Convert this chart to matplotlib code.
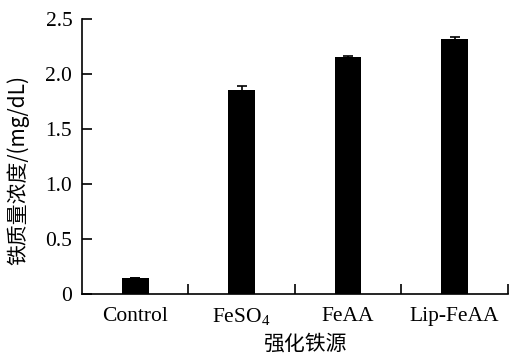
import numpy as np
import matplotlib
matplotlib.use('Agg')
from matplotlib import pyplot as plt

# datos
categorias = ['Control', 'FeSO$_4$', 'FeAA', 'Lip-FeAA']
valores = [0.145, 1.85, 2.155, 2.32]
errores = [0.0, 0.04, 0.012, 0.015]
yticks = [0, 0.5, 1.0, 1.5, 2.0, 2.5]
ytick_labels = ['0', '0.5', '1.0', '1.5', '2.0', '2.5']

plt.rcParams['font.family'] = ['Liberation Serif', 'Noto Sans CJK SC']
plt.rcParams['mathtext.fontset'] = 'custom'
plt.rcParams['mathtext.rm'] = 'Liberation Serif'

fig = plt.figure(figsize=(5.14, 3.55), dpi=100)
ax = fig.add_axes([0.1595, 0.1718, 0.8285, 0.7747])

x = np.arange(len(categorias))
ax.bar(x, valores, width=0.25, color='black', yerr=errores,
       error_kw=dict(ecolor='black', elinewidth=1.2, capsize=3.5, capthick=1.2))

ax.set_xlim(-0.5, len(categorias) - 0.5)
ax.set_ylim(0, 2.5)
ax.set_yticks(yticks)
ax.set_yticklabels(ytick_labels)
ax.set_xticks(x)
ax.set_xticklabels(categorias)
ax.tick_params(axis='x', length=0, labelsize=15.5, pad=9)
ax.set_xticks(np.arange(len(categorias)) + 0.5, minor=True)
ax.tick_params(axis='x', which='minor', direction='in', length=7, width=1.2)
ax.tick_params(axis='y', direction='in', length=7, width=1.2, labelsize=15.5, pad=7)

for lado in ['top', 'right']:
    ax.spines[lado].set_visible(False)
for lado in ['left', 'bottom']:
    ax.spines[lado].set_linewidth(1.2)

# etiquetas de los ejes centradas en su posicion
ax.set_ylabel('铁质量浓度/(mg/dL)', fontsize=15, family=['Noto Sans CJK SC', 'Liberation Serif'],
              va='center', ha='center')
ax.set_xlabel('强化铁源', fontsize=15, family=['Noto Sans CJK SC'], va='center', ha='center')
ax.yaxis.set_label_coords(-0.15, 0.45)
ax.xaxis.set_label_coords(0.523, -0.18)

plt.savefig('out.png', dpi=100)
